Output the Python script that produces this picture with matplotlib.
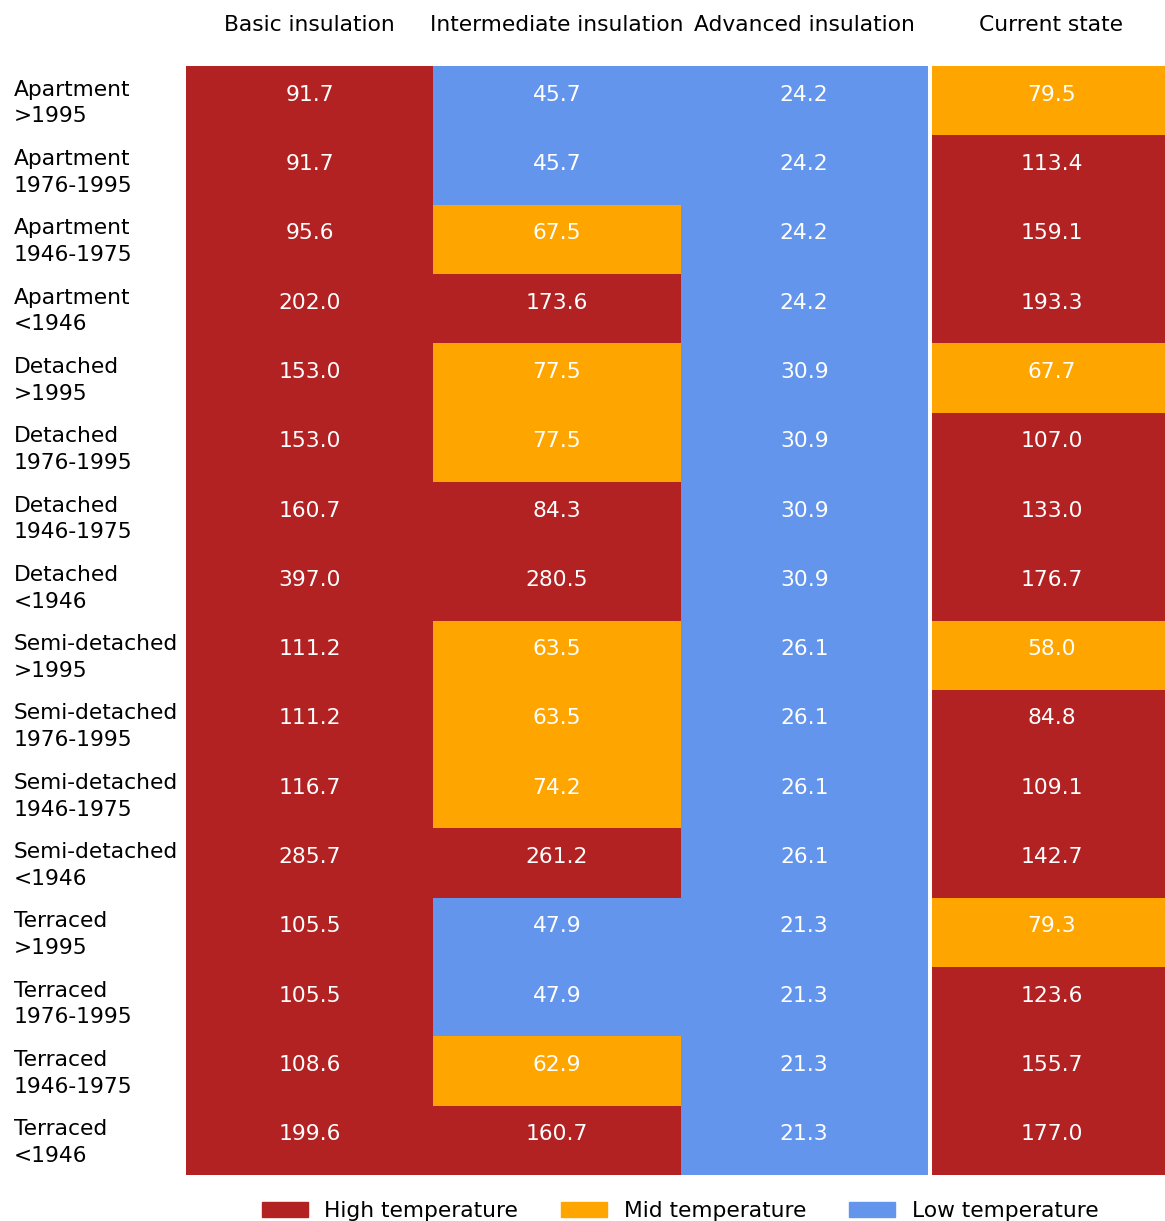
import numpy as np
import matplotlib
matplotlib.use("Agg")
import matplotlib.pyplot as plt
import matplotlib.transforms as mtransforms
from matplotlib.colors import ListedColormap, BoundaryNorm
from matplotlib.patches import Patch

# donnees du tableau
rows = ["Apartment\n>1995", "Apartment\n1976-1995", "Apartment\n1946-1975", "Apartment\n<1946",
        "Detached\n>1995", "Detached\n1976-1995", "Detached\n1946-1975", "Detached\n<1946",
        "Semi-detached\n>1995", "Semi-detached\n1976-1995", "Semi-detached\n1946-1975", "Semi-detached\n<1946",
        "Terraced\n>1995", "Terraced\n1976-1995", "Terraced\n1946-1975", "Terraced\n<1946"]
columns = ["Basic insulation", "Intermediate insulation", "Advanced insulation", "Current state"]

basic = [91.7, 91.7, 95.6, 202.0, 153.0, 153.0, 160.7, 397.0,
         111.2, 111.2, 116.7, 285.7, 105.5, 105.5, 108.6, 199.6]
intermediate = [45.7, 45.7, 67.5, 173.6, 77.5, 77.5, 84.3, 280.5,
                63.5, 63.5, 74.2, 261.2, 47.9, 47.9, 62.9, 160.7]
advanced = [24.2, 24.2, 24.2, 24.2, 30.9, 30.9, 30.9, 30.9,
            26.1, 26.1, 26.1, 26.1, 21.3, 21.3, 21.3, 21.3]
current = [79.5, 113.4, 159.1, 193.3, 67.7, 107.0, 133.0, 176.7,
           58.0, 84.8, 109.1, 142.7, 79.3, 123.6, 155.7, 177.0]

thresholds = [0, 50, 80, 1000]
legend_names = ["High temperature", "Mid temperature", "Low temperature"]

data = np.array([basic, intermediate, advanced, current]).T

fs = 15.7
cmap = ListedColormap(["#6495ED", "#FFA500", "#B22222"])
norm = BoundaryNorm(thresholds, cmap.N)

fig = plt.figure(figsize=(11.65, 12.21), dpi=100)
ax = fig.add_axes([186 / 1165, 1 - 1175 / 1221, 989 / 1165, 1109 / 1221])

ax.pcolormesh(np.arange(5), np.arange(17), data, cmap=cmap, norm=norm)
ax.set_xlim(0, 4)
ax.set_ylim(16, 0)

for i in range(data.shape[0]):
    for j in range(data.shape[1]):
        ax.text(j + 0.5, i + 0.5, "%.1f" % data[i, j], ha="center", va="baseline",
                color="white", fontsize=fs)

# separation blanche avant "Current state"
ax.axvline(3.008, color="white", linewidth=2.9)

ax.xaxis.tick_top()
ax.set_xticks(np.arange(4) + 0.5)
ax.set_xticklabels(columns, fontsize=fs)
ax.set_yticks(np.arange(16) + 0.5)
ax.set_yticklabels(rows, fontsize=fs, ha="left", linespacing=1.42)
ax.tick_params(axis="x", length=0, pad=22)
ax.tick_params(axis="y", length=0, pad=124)
decal = mtransforms.ScaledTranslation(0, 3 / 100, fig.dpi_scale_trans)
for lab in ax.get_yticklabels():
    lab.set_transform(lab.get_transform() + decal)
for s in ax.spines.values():
    s.set_visible(False)

handles = [Patch(color=cmap(2)), Patch(color=cmap(1)), Patch(color=cmap(0))]
fig.legend(handles, legend_names, loc="center", bbox_to_anchor=(680 / 1165, 1 - 1211 / 1221),
           ncol=3, frameon=False, fontsize=fs, handlelength=2.1, handletextpad=0.75,
           columnspacing=2.0)

plt.savefig("out.png")
